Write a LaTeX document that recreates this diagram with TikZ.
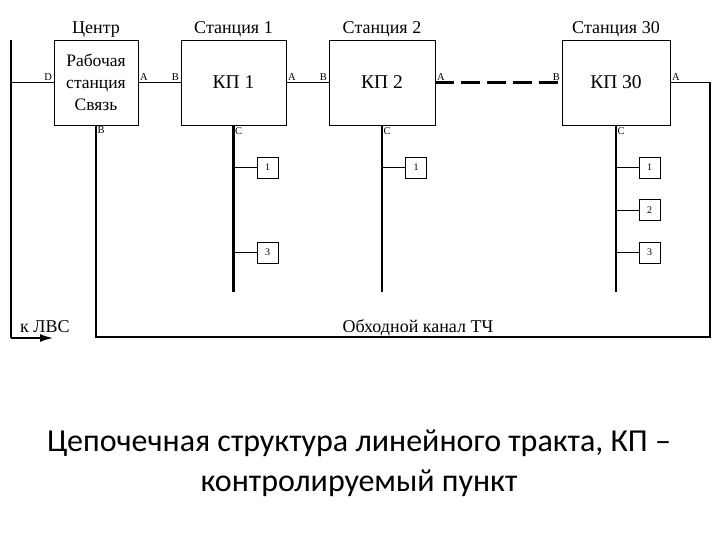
\documentclass[tikz,border=0pt]{standalone}
\usepackage{fontspec}
\setmainfont{Liberation Serif}
\newfontfamily\captionfont{Carlito}
\usetikzlibrary{arrows.meta, positioning, calc}
\tikzstyle{kpbox}   = [rectangle, draw=black, line width=0.8pt, minimum width=105pt,
                       minimum height=85pt, align=center, font=\fontsize{19.5}{22}\selectfont]
\tikzstyle{devbox}  = [rectangle, draw=black, line width=0.8pt, minimum size=21pt,
                       inner sep=0pt, font=\fontsize{10}{12}\selectfont]
\tikzstyle{title}   = [inner sep=1pt, font=\fontsize{18}{20}\selectfont]
\tikzstyle{port}    = [inner sep=1.5pt, font=\fontsize{10.5}{12}\selectfont]
\tikzstyle{link}    = [line width=0.8pt]
\tikzstyle{bus}     = [line width=2.4pt]
\tikzstyle{trunk}   = [line width=1.6pt]

\begin{document}
\begin{tikzpicture}[x=1pt, y=-1pt]
  \useasboundingbox (0,0) rectangle (720,540);

  % --- Centre and stations ---
  \node (centre) [kpbox, minimum width=84pt, font=\fontsize{17.5}{22}\selectfont]
                 at (96,82.5) {Рабочая\\станция\\Связь};
  \node (kp1)    [kpbox] at (233.5,82.5) {КП 1};
  \node (kp2)    [kpbox, minimum width=106pt] at (382,82.5) {КП 2};
  \node (kp30)   [kpbox, minimum width=108pt] at (616,82.5) {КП 30};

  \node (t_c)  [title, above=1pt of centre] {Центр};
  \node (t_1)  [title, above=1pt of kp1]    {Станция 1};
  \node (t_2)  [title, above=1pt of kp2]    {Станция 2};
  \node (t_30) [title, above=1pt of kp30]   {Станция 30};

  % --- Devices ---
  \node (d1_1)  [devbox] at (267.5,167.5) {1};
  \node (d1_3)  [devbox] at (267.5,252.5) {3};
  \node (d2_1)  [devbox] at (416,167.5)   {1};
  \node (d30_1) [devbox] at (649.5,167.5) {1};
  \node (d30_2) [devbox] at (649.5,210)   {2};
  \node (d30_3) [devbox] at (649.5,252.5) {3};

  % --- Points ---
  \coordinate (lantop)    at (11,40);
  \coordinate (lancorner) at (11,338);
  \coordinate (lan)       at (53,338);
  \coordinate (bypass)    at (710,337);
  \coordinate (bus1)      at (233.5,292);
  \coordinate (bus2)      at (382,292);
  \coordinate (bus30)     at (616,292);

  % Chain
  \draw[trunk] (lantop) -- (lancorner);
  \draw[trunk, -{Latex[length=13pt, width=8pt]}] (lancorner) -- (lan);
  \draw[link] (centre.west) -- (centre.west -| lantop);
  \draw[link] (centre.east) -- (kp1.west);
  \draw[link] (kp1.east)    -- (kp2.west);
  \draw[line width=2.2pt, dash pattern=on 19pt off 7pt] (kp2.east) -- (kp30.west);
  \draw[link]  (kp30.east) -- (kp30.east -| bypass);
  \draw[trunk] (kp30.east -| bypass) -- (bypass) -- (bypass -| centre.south) -- (centre.south);

  % Buses
  \draw[bus] (kp1.south)  -- (bus1);
  \draw[bus] (kp2.south)  -- (bus2);
  \draw[bus] (kp30.south) -- (bus30);
  \draw[link] (d1_1.west)  -- (d1_1.west -| bus1);
  \draw[link] (d1_3.west)  -- (d1_3.west -| bus1);
  \draw[link] (d2_1.west)  -- (d2_1.west -| bus2);
  \draw[link] (d30_1.west) -- (d30_1.west -| bus30);
  \draw[link] (d30_2.west) -- (d30_2.west -| bus30);
  \draw[link] (d30_3.west) -- (d30_3.west -| bus30);

  % Ports
  \node (p_cd)  [port, anchor=south east] at (centre.west) {D};
  \node (p_ca)  [port, anchor=south west] at (centre.east) {A};
  \node (p_cb)  [port, anchor=north west] at (centre.south) {B};
  \node (p_1b)  [port, anchor=south east] at (kp1.west)   {B};
  \node (p_1a)  [port, anchor=south west] at (kp1.east)   {A};
  \node (p_1c)  [port, anchor=north west] at (kp1.south)  {C};
  \node (p_2b)  [port, anchor=south east] at (kp2.west)   {B};
  \node (p_2a)  [port, anchor=south west] at (kp2.east)   {A};
  \node (p_2c)  [port, anchor=north west] at (kp2.south)  {C};
  \node (p_30b) [port, anchor=south east] at (kp30.west)  {B};
  \node (p_30a) [port, anchor=south west] at (kp30.east)  {A};
  \node (p_30c) [port, anchor=north west] at (kp30.south) {C};

  % Labels
  \node (lan_lbl)  [title, anchor=base west] at (19,332)  {к ЛВС};
  \node (tch_lbl)  [title, anchor=base]     at (418,332) {Обходной канал ТЧ};

  % Caption
  \node (caption) [align=center, font=\captionfont\fontsize{32}{40}\selectfont]
        at (359,463) {Цепочечная структура линейного тракта, КП –\\контролируемый пункт};

\end{tikzpicture}
\end{document}
